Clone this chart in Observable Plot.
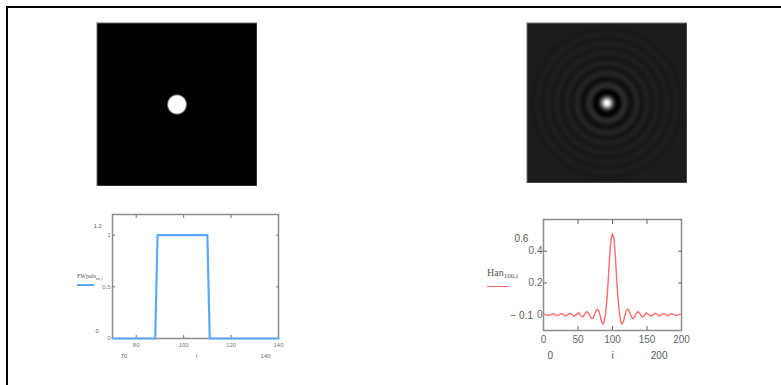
<!DOCTYPE html>
<html><head><meta charset="utf-8">
<script src="https://cdn.jsdelivr.net/npm/d3@7"></script>
<script src="https://cdn.jsdelivr.net/npm/@observablehq/plot@0.6"></script>
<style>
body{margin:0;background:#fff;}
#page{position:relative;width:781px;height:385px;overflow:hidden;background:#fff;font-family:"Liberation Sans",Arial,sans-serif;}
#border{position:absolute;left:6px;top:6px;width:800px;height:400px;border-top:2px solid #000;border-left:2px solid #000;}
.pane{position:absolute;line-height:0;}
.lab{position:absolute;font-family:"Liberation Serif","Times New Roman",serif;color:#555;white-space:nowrap;line-height:1;}
.lab sub{vertical-align:baseline;position:relative;top:0.3em;}
.leg{position:absolute;height:0;}
</style></head><body>
<div id="page">
  <div id="border"></div>
  <div class="pane" id="img1" style="left:96px;top:22px"></div>
  <div class="pane" id="img2" style="left:526px;top:22px"></div>
  <div class="pane" id="plot1" style="left:60px;top:200px"></div>
  <div class="pane" id="plot2" style="left:470px;top:200px"></div>
  <div class="lab" style="left:77px;top:273px;font-size:6px">FWpuls<sub style="font-size:5px">m,i</sub></div>
  <div class="leg" style="left:77px;top:284px;width:17px;border-top:2.5px solid #5aa9f7"></div>
  <div class="lab" style="left:487px;top:268px;font-size:10px">Han<sub style="font-size:7px">100,i</sub></div>
  <div class="leg" style="left:487px;top:286px;width:22px;border-top:1.5px solid #ff6b6b"></div>
</div>
<script>
// ---- data ----
const fwIndex = [70, 88, 89, 110, 111, 140];
const fwValue = [0, 0, 1, 1, 0, 0];

const hanIndex = [0, 4, 8, 11, 14, 17, 20, 23, 26, 29, 32, 35, 38, 41, 44, 48, 51, 54, 57, 60, 63, 66, 68, 70, 72, 74, 76, 78, 80, 82, 84, 86, 88, 90, 92, 94, 96, 98, 100,
  102, 104, 106, 108, 110, 112, 114, 116, 118, 120, 122, 124, 126, 128, 130, 132, 134, 137, 140, 143, 146, 149, 152, 156, 159, 162, 165, 168, 171, 174, 177, 180, 183, 186, 189, 192, 196, 200];
const hanValue = [0.002, 0, -0.005, 0, 0.006, 0, -0.007, 0, 0.007, 0, -0.008, 0, 0.009, 0, -0.01, 0.002, 0.012, -0.005, -0.015, 0.005, 0.02, 0.005, -0.015, -0.025, -0.02, 0, 0.025, 0.035, 0.025, -0.005, -0.04, -0.06, -0.045, 0.01, 0.1, 0.23, 0.38, 0.48, 0.51,
  0.48, 0.38, 0.23, 0.1, 0.01, -0.045, -0.06, -0.04, -0.005, 0.025, 0.035, 0.025, 0, -0.02, -0.025, -0.015, 0.005, 0.02, 0.005, -0.015, -0.005, 0.012, 0.002, -0.01, 0, 0.009, 0, -0.008, 0, 0.007, 0, -0.007, 0, 0.006, 0, -0.005, 0, 0.002];

const fwTicksX = [80, 100, 120, 140];
const fwInnerX = [80, 100, 120];
const fwTicksY = [0, 0.5, 1];
const fwInnerY = [0.5, 1];
const fwLimits = ["1.2", "0", "70", "i", "140"];

const hanTicksX = [0, 50, 100, 150, 200];
const hanInnerX = [50, 100, 150];
const hanTicksY = [0, 0.2, 0.4];
const hanInnerY = [0.2, 0.4];
const hanLimits = ["0.6", "\u2212 0.1", "0", "i", "200"];

// ---- helpers ----
const fwData = fwIndex.map((i, k) => ({i, v: fwValue[k]}));
const hanData = hanIndex.map((i, k) => ({i, v: hanValue[k]}));
function lookup(xs, vs, t) {
  if (t <= xs[0]) return vs[0];
  if (t >= xs[xs.length - 1]) return vs[vs.length - 1];
  const k = d3.bisectRight(xs, t);
  const x0 = xs[k - 1], x1 = xs[k];
  return vs[k - 1] + (vs[k] - vs[k - 1]) * (t - x0) / (x1 - x0);
}

// ---- images ----
function image(w, h, xs, vs, dom, span) {
  return Plot.plot({
    width: w, height: h, margin: 0,
    x: {domain: [100 - span, 100 + span], axis: null}, y: {domain: [100 - span, 100 + span], axis: null},
    color: {type: "linear", domain: dom, range: ["#000", "#fff"], clamp: true},
    style: {background: "transparent"},
    marks: [
      Plot.raster({x1: 100 - span, y1: 100 - span, x2: 100 + span, y2: 100 + span,
        fill: (x, y) => lookup(xs, vs, 100 + Math.hypot(x - 100, y - 100))}),
      Plot.frame({stroke: "#b8b8b8", strokeWidth: 1.5})
    ]
  });
}
document.getElementById("img1").append(image(161, 164, fwIndex, fwValue, [0, 1], 90));
document.getElementById("img2").append(image(161, 161, hanIndex, hanValue, [-0.06, 0.5], 100));

// ---- left plot ----
const lim1 = (k, anchor, dx, dy) => Plot.text([fwLimits[k]], {text: d => d, frameAnchor: anchor, dx, dy, fontSize: 6, fill: "#666"});
const p1 = Plot.plot({
  width: 240, height: 170, marginLeft: 52, marginRight: 22, marginTop: 14, marginBottom: 32,
  x: {domain: [70, 140]}, y: {domain: [0, 1.2]},
  style: {background: "transparent", color: "#777", fontFamily: "Liberation Sans, Arial, sans-serif", fontSize: "6px"},
  marks: [
    Plot.frame({stroke: "#8c8c8c", strokeWidth: 1.5}),
    Plot.axisX(fwTicksX, {anchor: "bottom", tickSize: 0, tickPadding: 4, label: null, fontSize: 6}),
    Plot.axisX(fwInnerX, {anchor: "bottom", tickSize: -3, tickFormat: () => "", label: null}),
    Plot.axisX(fwInnerX, {anchor: "top", tickSize: -3, tickFormat: () => "", label: null}),
    Plot.axisY(fwTicksY, {anchor: "left", tickSize: 0, tickPadding: 2, label: null, fontSize: 6, tickFormat: d => String(d)}),
    Plot.axisY(fwInnerY, {anchor: "left", tickSize: -3, tickFormat: () => "", label: null}),
    Plot.axisY(fwInnerY, {anchor: "right", tickSize: -3, tickFormat: () => "", label: null}),
    Plot.line(fwData, {x: "i", y: "v", stroke: "#5aa9f7", strokeWidth: 2.2}),
    lim1(0, "top-left", -19, 9),
    lim1(1, "bottom-left", -17, -6),
    lim1(2, "bottom-left", 8, 19),
    lim1(3, "bottom", 1, 19),
    lim1(4, "bottom-right", -8, 19)
  ]
});
document.getElementById("plot1").append(p1);

// ---- right plot ----
const lim2 = (k, anchor, dx, dy) => Plot.text([hanLimits[k]], {text: d => d, frameAnchor: anchor, dx, dy, fontSize: 10, fill: "#555"});
const p2 = Plot.plot({
  width: 240, height: 170, marginLeft: 73, marginRight: 29, marginTop: 19, marginBottom: 40,
  x: {domain: [0, 200]}, y: {domain: [-0.1, 0.6]},
  style: {background: "transparent", color: "#666", fontFamily: "Liberation Sans, Arial, sans-serif", fontSize: "10px"},
  marks: [
    Plot.frame({stroke: "#8c8c8c", strokeWidth: 1.5}),
    Plot.axisX(hanTicksX, {anchor: "bottom", tickSize: 0, tickPadding: 5, label: null, fontSize: 10}),
    Plot.axisX(hanInnerX, {anchor: "bottom", tickSize: -4, tickFormat: () => "", label: null}),
    Plot.axisX(hanInnerX, {anchor: "top", tickSize: -4, tickFormat: () => "", label: null}),
    Plot.axisY(hanTicksY, {anchor: "left", tickSize: 0, tickPadding: 1, label: null, fontSize: 10, tickFormat: d => String(d)}),
    Plot.axisY(hanInnerY, {anchor: "left", tickSize: -4, tickFormat: () => "", label: null}),
    Plot.axisY(hanInnerY, {anchor: "right", tickSize: -4, tickFormat: () => "", label: null}),
    Plot.line(hanData, {x: "i", y: "v", stroke: "#ff6b6b", strokeWidth: 1.4}),
    lim2(0, "top-left", -29, 15),
    lim2(1, "bottom-left", -33, -12),
    lim2(2, "bottom-left", 4, 28),
    lim2(3, "bottom", 0, 28),
    lim2(4, "bottom-right", -14, 28)
  ]
});
document.getElementById("plot2").append(p2);
</script>
</body></html>
